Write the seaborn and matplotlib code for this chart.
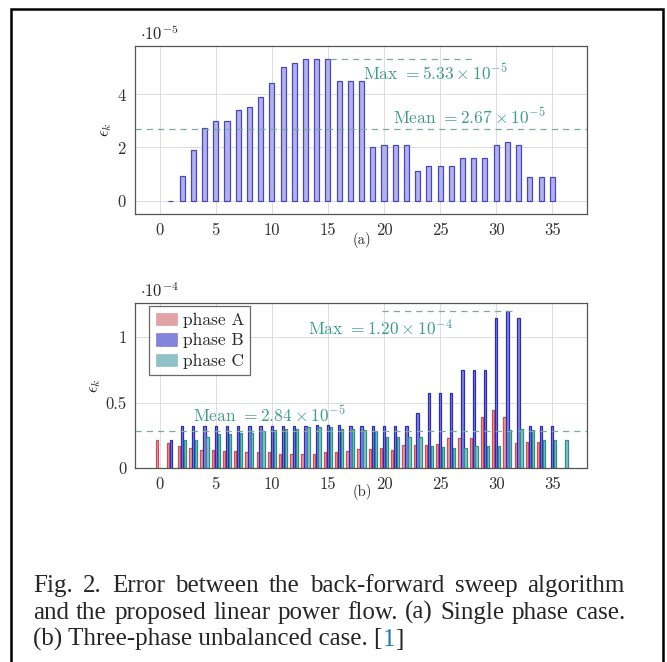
import numpy as np
import pandas as pd
import seaborn as sns
import matplotlib.pyplot as plt
from matplotlib.patches import Rectangle

# (a) single phase error, unit 1e-5, buses 1..35
bus_a = list(range(1, 36))
err_single = [0.0, 0.91, 1.9, 2.72, 3.0, 3.0, 3.4, 3.5, 3.89, 4.4, 5.0, 5.18, 5.3, 5.3, 5.33,
              4.5, 4.5, 4.5, 2.0, 2.1, 2.1, 2.1, 1.1, 1.3, 1.3, 1.3, 1.6, 1.6, 1.6,
              2.1, 2.2, 2.1, 0.9, 0.9, 0.9]

# (b) three-phase error, unit 1e-4, buses 0..36 (nan = no bar)
bus_b = list(range(0, 37))
nan = np.nan
phase_a = [0.21, 0.19, 0.165, 0.15, 0.14, 0.14, 0.13, 0.13, 0.125, 0.12, 0.12, 0.11, 0.11,
           0.11, 0.11, 0.12, 0.12, 0.13, 0.145, 0.145, 0.15, 0.14, 0.175, 0.175, 0.175,
           0.18, 0.23, 0.23, 0.23, 0.39, 0.44, 0.39, 0.19, 0.2, 0.2, nan, nan]
phase_b = [nan, 0.21, 0.32, 0.32, 0.32, 0.32, 0.32, 0.32, 0.32, 0.32, 0.32, 0.32, 0.32,
           0.32, 0.33, 0.33, 0.33, 0.32, 0.32, 0.32, 0.32, 0.32, 0.32, 0.42, 0.57, 0.57,
           0.57, 0.745, 0.745, 0.745, 1.145, 1.20, 1.145, 0.32, 0.32, 0.32, nan]
phase_c = [nan, nan, 0.21, 0.21, 0.24, 0.26, 0.26, 0.27, 0.27, 0.28, 0.29, 0.30, 0.30,
           0.31, 0.31, 0.31, 0.30, 0.30, 0.29, 0.28, 0.24, 0.235, 0.235, 0.24, 0.165,
           0.16, 0.155, 0.155, 0.165, 0.165, 0.165, 0.29, 0.30, 0.29, 0.21, 0.21, 0.21]

mean_a, max_a = 2.67, 5.33
mean_b, max_b = 0.284, 1.20

caption = ["Fig. 2. Error between the back-forward sweep algorithm",
           "and the proposed linear power flow. (a) Single phase case.",
           "(b) Three-phase unbalanced case. ["]

sns.set_style("whitegrid")
plt.rcParams["font.family"] = ["cmr10", "DejaVu Serif"]
plt.rcParams["mathtext.fontset"] = "cm"
plt.rcParams["axes.unicode_minus"] = False
plt.rcParams["axes.formatter.use_mathtext"] = True

fig = plt.figure(figsize=(6.67, 6.62), dpi=100)
ax1 = fig.add_axes([0.2024, 0.6767, 0.6777, 0.2538])
ax2 = fig.add_axes([0.2024, 0.2931, 0.6777, 0.2492])

text_col = "#3f9a8c"
line_col = "#7fa8a4"
fs = 12

## (a)
df_a = pd.DataFrame({"bus": bus_a, "err": err_single})
sns.barplot(data=df_a, x="bus", y="err", native_scale=True, width=0.45,
            color="#a9a9f2", edgecolor="#4848b8", linewidth=0.9, ax=ax1)
ax1.axhline(mean_a, color=line_col, ls=(0, (5, 4)), lw=0.9)
ax1.plot([15.2, 27.9], [max_a, max_a], color=line_col, ls=(0, (5, 4)), lw=0.9)
ax1.text(18.1, 4.79, r"Max $= 5.33\times10^{-5}$", color=text_col, fontsize=12.5, va="center")
ax1.text(20.8, 3.14, r"Mean $= 2.67\times10^{-5}$", color=text_col, fontsize=12.5, va="center")
ax1.set_xlim(-2.2, 38.1)
ax1.set_ylim(-0.5, 5.8)
ax1.set_yticks([0, 2, 4])
ax1.text(0.01, 1.02, r"$\cdot10^{-5}$", transform=ax1.transAxes, fontsize=fs, va="bottom")

## (b)
df_b = pd.DataFrame({"bus": bus_b * 3,
                     "err": phase_a + phase_b + phase_c,
                     "phase": ["phase A"] * 37 + ["phase B"] * 37 + ["phase C"] * 37})
sns.barplot(data=df_b, x="bus", y="err", hue="phase", native_scale=True, width=0.78,
            gap=0.2, palette=["#eb97a0", "#7575ea", "#86c8d2"],
            linewidth=0.9, ax=ax2)
edge_cols = ["#c8505e", "#2f2fa5", "#2e8e8a"]
for cont, ec in zip(ax2.containers, edge_cols):
    for bar in cont:
        bar.set_edgecolor(ec)
ax2.axhline(mean_b, color=line_col, ls=(0, (5, 4)), lw=0.9)
ax2.plot([19.8, 31.9], [max_b, max_b], color=line_col, ls=(0, (5, 4)), lw=0.9)
ax2.text(13.2, 1.07, r"Max $= 1.20\times10^{-4}$", color=text_col, fontsize=12.5, va="center")
ax2.text(2.95, 0.405, r"Mean $= 2.84\times10^{-5}$", color=text_col, fontsize=12.5, va="center")
ax2.set_xlim(-2.2, 38.1)
ax2.set_ylim(0, 1.26)
ax2.set_yticks([0, 0.5, 1])
ax2.set_yticklabels(["0", "0.5", "1"])
ax2.text(0.01, 1.02, r"$\cdot10^{-4}$", transform=ax2.transAxes, fontsize=fs, va="bottom")
leg = ax2.legend(loc="upper left", bbox_to_anchor=(0.025, 1.0), frameon=True, fancybox=False,
                 fontsize=12.5, handlelength=1.3, handleheight=0.9, handletextpad=0.3,
                 borderpad=0.35, labelspacing=0.25, borderaxespad=0.15, edgecolor="#444444")
leg.get_frame().set_linewidth(0.9)

for ax in (ax1, ax2):
    ax.set_xticks([0, 5, 10, 15, 20, 25, 30, 35])
    ax.set_xticklabels([str(v) for v in [0, 5, 10, 15, 20, 25, 30, 35]])
    ax.set_xlabel("")
    ax.set_ylabel(r"$\epsilon_k$", fontsize=fs, labelpad=2)
    ax.tick_params(labelsize=fs, colors="#333333", length=0, pad=6)
    ax.grid(True, color="#dddddd", lw=0.7)
    ax.set_axisbelow(True)
    for s in ax.spines.values():
        s.set_color("#555555")
        s.set_linewidth(0.9)

fig.text(362 / 667, 1 - 240 / 662, "(a)", ha="center", va="center", fontsize=10.5)
fig.text(362 / 667, 1 - 492 / 662, "(b)", ha="center", va="center", fontsize=10.5)

# caption, first two lines justified between x=33 and x=625 px
cap_fs = 18
renderer = fig.canvas.get_renderer()
baselines = [592, 619, 646]
for i, line in enumerate(caption):
    y = 1 - baselines[i] / 662
    if i < 2:
        words = line.split(" ")
        tmp = [fig.text(0, 0, w, fontsize=cap_fs, family="Liberation Serif") for w in words]
        widths = [t.get_window_extent(renderer).width for t in tmp]
        for t in tmp:
            t.remove()
        space = (625 - 33 - sum(widths)) / (len(words) - 1)
        x = 33
        for w, wd in zip(words, widths):
            fig.text(x / 667, y, w, fontsize=cap_fs, family="Liberation Serif", va="baseline")
            x += wd + space
    else:
        t3 = fig.text(33 / 667, y, line, fontsize=cap_fs, family="Liberation Serif", va="baseline")
        t4 = ax2.annotate("1", xy=(1, 0), xycoords=t3, color="#1f77b4", fontsize=cap_fs,
                          family="Liberation Serif", va="bottom", annotation_clip=False)
        ax2.annotate("]", xy=(1, 0), xycoords=t4, fontsize=cap_fs, family="Liberation Serif",
                     va="bottom", annotation_clip=False)

fig.patches.append(Rectangle((11 / 667, -0.01), 652 / 667, 1 - 9 / 662 + 0.01,
                             transform=fig.transFigure, fill=False, edgecolor="black",
                             linewidth=1.8, figure=fig))

fig.savefig("out.png", dpi=100)
